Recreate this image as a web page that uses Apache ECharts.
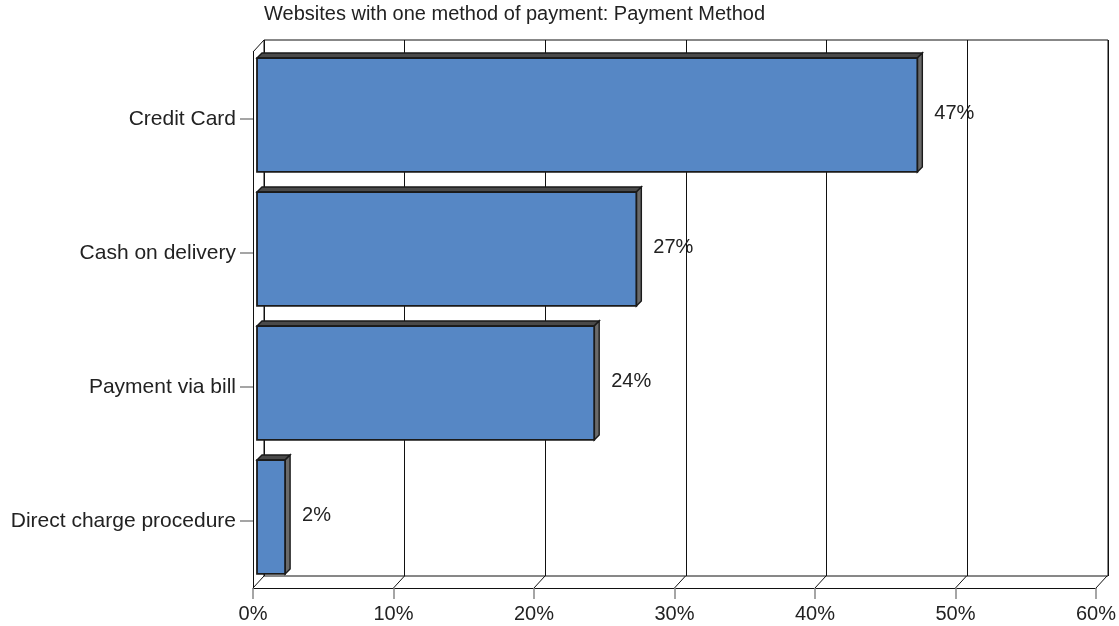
<!DOCTYPE html>
<html>
<head>
<meta charset="utf-8">
<script src="https://cdn.jsdelivr.net/npm/echarts@6/dist/echarts.min.js"></script>
<style>
  html, body { margin: 0; padding: 0; background: #ffffff; }
  #chart { width: 1119px; height: 626px; }
</style>
</head>
<body>
<div id="chart"></div>
<script>
// Chart content
const chartTitle = 'Websites with one method of payment: Payment Method';
const categories = ['Credit Card', 'Cash on delivery', 'Payment via bill', 'Direct charge procedure'];
const shares = [47, 27, 24, 2];
const axisTicks = [0, 10, 20, 30, 40, 50, 60];

// Pseudo-3D geometry (pixels)
const WALL_DX = 11;   // back wall offset to the right
const WALL_DY = 12;   // back wall offset upward
const BAR_SHIFT = 4;  // bar front face sits slightly inside the depth
const BAR_DEPTH = 5;  // thickness of the bar's top / side faces

const FONT = '"Liberation Sans", Arial, sans-serif';
const TEXT = '#222222';

const chart = echarts.init(document.getElementById('chart'), null, { renderer: 'canvas' });

const axisMin = axisTicks[0];
const axisMax = axisTicks[axisTicks.length - 1];
const axisStep = axisTicks[1] - axisTicks[0];

// 3D bar: front face, top face, right side face and value label
function renderBar(params, api) {
  const idx = api.value(1);
  const val = api.value(0);
  const start = api.coord([0, idx]);
  const end = api.coord([val, idx]);
  const band = api.size([0, 1])[1];
  const h = band * 0.85;
  const x0 = start[0] + BAR_SHIFT;
  const x1 = end[0] + BAR_SHIFT;
  const yc = start[1] - BAR_SHIFT;
  const y0 = yc - h / 2;
  const y1 = yc + h / 2;
  const d = BAR_DEPTH;
  return {
    type: 'group',
    children: [
      {
        type: 'polygon',
        shape: { points: [[x0, y0], [x0 + d, y0 - d], [x1 + d, y0 - d], [x1, y0]] },
        style: { fill: '#4a4a4a', stroke: '#1a1a1a', lineWidth: 1.4 }
      },
      {
        type: 'polygon',
        shape: { points: [[x1, y0], [x1 + d, y0 - d], [x1 + d, y1 - d], [x1, y1]] },
        style: { fill: '#6a6a6a', stroke: '#1a1a1a', lineWidth: 1.4 }
      },
      {
        type: 'rect',
        shape: { x: x0, y: y0, width: x1 - x0, height: h },
        style: { fill: '#5687c5', stroke: '#1a1a1a', lineWidth: 1.8 }
      },
      {
        type: 'text',
        x: x1 + d + 12,
        y: yc - 2,
        style: {
          text: val + '%',
          fill: TEXT,
          font: '20px ' + FONT,
          textAlign: 'left',
          textVerticalAlign: 'middle'
        }
      }
    ]
  };
}

// Floor and side-wall edges joining the front plane to the back wall
function renderEdges(params, api) {
  const cs = params.coordSys;
  const v = api.value(0);
  const bottom = cs.y + cs.height;
  const children = [];
  const px = api.coord([v, 0])[0];
  children.push({
    type: 'line',
    shape: { x1: px, y1: bottom, x2: px + WALL_DX, y2: bottom - WALL_DY },
    style: { stroke: '#111', lineWidth: 1 }
  });
  if (v === axisMin) {
    children.push({
      type: 'line',
      shape: { x1: cs.x, y1: cs.y, x2: cs.x + WALL_DX, y2: cs.y - WALL_DY },
      style: { stroke: '#111', lineWidth: 1 }
    });
  }
  return { type: 'group', children: children };
}

const option = {
  backgroundColor: '#ffffff',
  animation: false,
  title: {
    text: chartTitle,
    left: 259,
    top: -1,
    textStyle: { fontFamily: FONT, fontSize: 20, fontWeight: 'normal', color: TEXT }
  },
  grid: [
    { left: 253, right: 22, top: 52, bottom: 38 },
    {
      left: 253 + WALL_DX, right: 22 - WALL_DX, top: 52 - WALL_DY, bottom: 38 + WALL_DY,
      show: true, borderColor: '#111', borderWidth: 1, backgroundColor: 'transparent'
    }
  ],
  xAxis: [
    {
      type: 'value', gridIndex: 0, min: axisMin, max: axisMax, interval: axisStep,
      axisLine: { show: true, lineStyle: { color: '#111', width: 1 } },
      axisTick: { show: true, length: 11, lineStyle: { color: '#888', width: 1.5 } },
      axisLabel: {
        formatter: '{value}%', margin: 16,
        fontFamily: FONT, fontSize: 20, color: TEXT
      },
      splitLine: { show: false }
    },
    {
      type: 'value', gridIndex: 1, min: axisMin, max: axisMax, interval: axisStep,
      axisLine: { show: false }, axisTick: { show: false }, axisLabel: { show: false },
      splitLine: { show: true, lineStyle: { color: '#111', width: 1 } }
    }
  ],
  yAxis: [
    {
      type: 'category', gridIndex: 0, data: categories, inverse: true,
      axisLine: { show: true, lineStyle: { color: '#111', width: 1 } },
      axisTick: { show: true, alignWithLabel: true, length: 13, lineStyle: { color: '#888', width: 1.5 } },
      axisLabel: { margin: 17, fontFamily: FONT, fontSize: 21, color: TEXT },
      splitLine: { show: false }
    },
    {
      type: 'category', gridIndex: 1, data: categories, inverse: true, show: false
    }
  ],
  series: [
    {
      type: 'custom',
      name: 'edges',
      xAxisIndex: 0, yAxisIndex: 0,
      silent: true,
      z: 1,
      data: axisTicks.map(function (t) { return [t, 0]; }),
      encode: { x: 0, y: 1 },
      renderItem: renderEdges
    },
    {
      type: 'custom',
      name: 'Payment Method',
      xAxisIndex: 0, yAxisIndex: 0,
      z: 5,
      data: shares.map(function (v, i) { return [v, i]; }),
      encode: { x: 0, y: 1 },
      renderItem: renderBar
    }
  ]
};

chart.setOption(option);
</script>
</body>
</html>
